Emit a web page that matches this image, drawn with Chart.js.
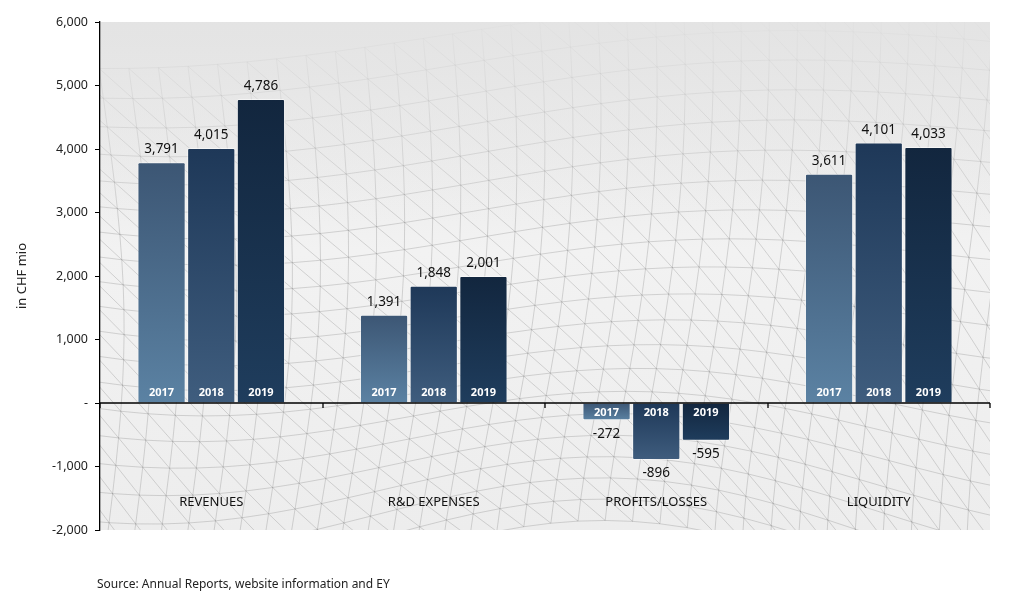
<!DOCTYPE html>
<html><head><meta charset="utf-8">
<script src="https://cdn.jsdelivr.net/npm/chart.js@4"></script>
<style>
html,body{margin:0;padding:0;background:#fff;}
#wrap{position:relative;width:1024px;height:602px;}
#src{position:absolute;left:97px;top:575px;font:12px "Noto Sans",sans-serif;color:#222;white-space:nowrap;}
</style></head><body>
<div id="wrap"><canvas id="c" width="1024" height="602"></canvas><div id="src">Source: Annual Reports, website information and EY</div></div>
<script>
const categories = ['REVENUES', 'R&D EXPENSES', 'PROFITS/LOSSES', 'LIQUIDITY'];
const years = ['2017', '2018', '2019'];
const values2017 = [3791, 1391, -272, 3611];
const values2018 = [4015, 1848, -896, 4101];
const values2019 = [4786, 2001, -595, 4033];
const yMin = -2000, yMax = 6000, yStep = 1000;
const yTitle = 'in CHF mio';

const seriesValues = [values2017, values2018, values2019];
const gradColors = [
  ['#3c5674', '#5b82a3'],
  ['#1e3858', '#3f5d7e'],
  ['#12263e', '#1f3d5d']
];
const FONT = '"Noto Sans", sans-serif';

function barGradient(idx) {
  return function (ctx) {
    const chart = ctx.chart;
    const ys = chart.scales && chart.scales.y;
    if (!chart.chartArea || !ys || ctx.type !== 'data') return gradColors[idx][1];
    const v = ctx.parsed ? ctx.parsed.y : 0;
    const yv = ys.getPixelForValue(v), y0 = ys.getPixelForValue(0);
    const a = Math.min(yv, y0), b = Math.max(yv, y0);
    const g = chart.ctx.createLinearGradient(0, a, 0, b + 0.01);
    g.addColorStop(0, gradColors[idx][0]);
    g.addColorStop(1, gradColors[idx][1]);
    return g;
  };
}

const bgPlugin = {
  id: 'bg',
  beforeDraw(chart) {
    const {ctx, chartArea: ca} = chart;
    if (!ca) return;
    const W = ca.right - ca.left, H = ca.bottom - ca.top;
    ctx.save();
    const g = ctx.createLinearGradient(0, ca.top, 0, ca.bottom);
    g.addColorStop(0, '#e2e2e2');
    g.addColorStop(0.45, '#f2f2f2');
    g.addColorStop(1, '#ededed');
    ctx.fillStyle = g;
    ctx.fillRect(ca.left, ca.top, W, H);
    ctx.beginPath();
    ctx.rect(ca.left, ca.top, W, H);
    ctx.clip();
    // decorative wireframe surface
    const R = 20, C = 36;
    const pt = (i, j) => {
      const u = i / C, v = j / R;
      const x = ca.left - 60 + u * (W + 120) + 28 * Math.sin(v * 3 + u * 2);
      const y = ca.top + H * (0.02 + 1.08 * v) + 38 * Math.sin(u * 6 + 1) * (0.4 + v) + 22 * Math.cos(u * 3.5 - v * 4);
      return [x, y];
    };
    ctx.strokeStyle = 'rgba(100,100,100,0.32)';
    ctx.lineWidth = 0.75;
    for (let j = 0; j <= R; j++) {
      ctx.beginPath();
      for (let i = 0; i <= C; i++) { const p = pt(i, j); i ? ctx.lineTo(p[0], p[1]) : ctx.moveTo(p[0], p[1]); }
      ctx.stroke();
    }
    for (let i = 0; i <= C; i++) {
      ctx.beginPath();
      for (let j = 0; j <= R; j++) { const p = pt(i, j); j ? ctx.lineTo(p[0], p[1]) : ctx.moveTo(p[0], p[1]); }
      ctx.stroke();
    }
    for (let k = -R; k <= C; k++) {
      ctx.beginPath();
      let started = false;
      for (let j = 0; j <= R; j++) {
        const i = k + j;
        if (i < 0 || i > C) continue;
        const p = pt(i, j);
        started ? ctx.lineTo(p[0], p[1]) : ctx.moveTo(p[0], p[1]);
        started = true;
      }
      ctx.stroke();
    }
    const f = ctx.createLinearGradient(0, ca.top, 0, ca.top + H * 0.4);
    f.addColorStop(0, 'rgba(228,228,228,0.92)');
    f.addColorStop(1, 'rgba(236,236,236,0)');
    ctx.fillStyle = f;
    ctx.fillRect(ca.left, ca.top, W, H * 0.4);
    ctx.restore();
  }
};

const labelPlugin = {
  id: 'labels',
  afterDatasetsDraw(chart) {
    const {ctx, chartArea: ca, scales: {x, y}} = chart;
    const y0 = y.getPixelForValue(0);
    ctx.save();
    ctx.strokeStyle = '#000';
    ctx.lineWidth = 1.3;
    ctx.beginPath();
    ctx.moveTo(ca.left, y0); ctx.lineTo(ca.right, y0);
    const step = categories.length > 1 ? x.getPixelForValue(1) - x.getPixelForValue(0) : (ca.right - ca.left);
    for (let i = 0; i <= categories.length; i++) {
      const bx = Math.round(x.getPixelForValue(0) - step / 2 + i * step);
      ctx.moveTo(bx, y0); ctx.lineTo(bx, y0 + 5);
    }
    ctx.stroke();
    chart.data.datasets.forEach((ds, di) => {
      const meta = chart.getDatasetMeta(di);
      meta.data.forEach((el, i) => {
        const v = ds.data[i];
        ctx.fillStyle = '#111';
        ctx.font = '13.5px ' + FONT;
        ctx.textAlign = 'center';
        if (v >= 0) {
          ctx.textBaseline = 'bottom';
          ctx.fillText(v.toLocaleString('en-US'), el.x, el.y - 6);
        } else {
          ctx.textBaseline = 'top';
          ctx.fillText(v.toLocaleString('en-US'), el.x, el.y + 7);
        }
        ctx.fillStyle = '#fff';
        ctx.font = 'bold 11px ' + FONT;
        ctx.textBaseline = 'middle';
        ctx.fillText(ds.label, el.x, v >= 0 ? y0 - 10 : y0 + 10);
      });
    });
    ctx.fillStyle = '#111';
    ctx.font = '13px ' + FONT;
    ctx.textAlign = 'center';
    ctx.textBaseline = 'middle';
    categories.forEach((c, i) => {
      ctx.fillText(c, x.getPixelForValue(i), y.getPixelForValue(-1570));
    });
    ctx.restore();
  }
};

new Chart(document.getElementById('c'), {
  type: 'bar',
  data: {
    labels: categories,
    datasets: years.map((yr, i) => ({
      label: yr,
      data: seriesValues[i],
      backgroundColor: barGradient(i),
      borderColor: 'rgba(255,255,255,0.55)',
      borderWidth: 1,
      borderRadius: 2,
      borderSkipped: 'start',
      categoryPercentage: 0.67,
      barPercentage: 0.97
    }))
  },
  options: {
    responsive: false,
    animation: false,
    devicePixelRatio: 1,
    layout: {padding: {top: 22, right: 34, bottom: 72, left: 0}},
    plugins: {legend: {display: false}, tooltip: {enabled: false}},
    scales: {
      x: {display: false},
      y: {
        min: yMin, max: yMax,
        afterFit(s) { s.width = 100; },
        ticks: {
          stepSize: yStep,
          color: '#222',
          padding: 7,
          font: {family: FONT, size: 12.5},
          callback: v => v === 0 ? '-' : Number(v).toLocaleString('en-US')
        },
        grid: {drawOnChartArea: false, drawTicks: true, tickLength: 5, tickColor: '#000'},
        border: {display: true, color: '#000', width: 1.3},
        title: {display: true, text: yTitle, color: '#222', font: {family: FONT, size: 13}, padding: {top: 14, bottom: 0}}
      }
    }
  },
  plugins: [bgPlugin, labelPlugin]
});
</script>
</body></html>
